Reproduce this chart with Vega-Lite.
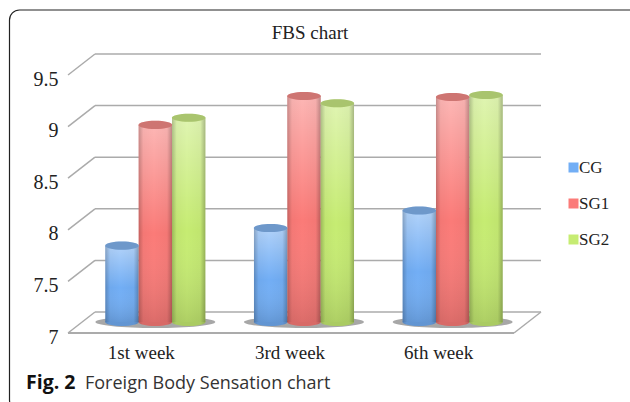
{
"$schema":"https://vega.github.io/schema/vega-lite/v6.json",
"autosize":{"type":"none"},
"padding":{"left":81,"top":64,"right":103,"bottom":80},
"width":446,"height":258,
"background":"white",
"datasets":{
"bars":[
{"week":"1st week","group":"CG","value":7.74},
{"week":"1st week","group":"SG1","value":8.91},
{"week":"1st week","group":"SG2","value":8.98},
{"week":"3rd week","group":"CG","value":7.91},
{"week":"3rd week","group":"SG1","value":9.19},
{"week":"3rd week","group":"SG2","value":9.12},
{"week":"6th week","group":"CG","value":8.08},
{"week":"6th week","group":"SG1","value":9.18},
{"week":"6th week","group":"SG2","value":9.2}],
"levels":[{"level":7},{"level":7.5},{"level":8},{"level":8.5},{"level":9},{"level":9.5}],
"weeks":[{"week":"1st week"},{"week":"3rd week"},{"week":"6th week"}],
"floor":[{"level":7}]
},
"data":{"name":"bars"},
"encoding":{
"x":{"field":"week","type":"nominal","sort":null,"title":null,
"scale":{"paddingInner":0.327,"paddingOuter":0.1635},
"axis":{"domain":false,"ticks":false,"grid":false,"labelAngle":0,"labelFont":"Liberation Serif","labelFontSize":19,"labelColor":"#222","labelPadding":21,"labelOffset":-14}},
"y":{"type":"quantitative","scale":{"domain":[7,9.5],"nice":false,"zero":false},"title":null,
"axis":{"values":[7,7.5,8,8.5,9,9.5],"format":"~g","domain":false,"ticks":false,"grid":false,"labelFont":"Liberation Serif","labelFontSize":20,"labelColor":"#222","labelPadding":23,"labelOffset":15}}
},
"layer":[
{"data":{"name":"levels"},"mark":{"type":"rule","stroke":"#ababab","strokeWidth":1.5,"yOffset":-10},
 "encoding":{"x":{"value":14},"x2":{"value":460},"y":{"field":"level","type":"quantitative"}}},
{"data":{"name":"levels"},"mark":{"type":"rule","stroke":"#ababab","strokeWidth":1.5,"yOffset":11,"y2Offset":-10},
 "encoding":{"x":{"value":-13},"x2":{"value":14},"y":{"field":"level","type":"quantitative"},"y2":{"field":"level"}}},
{"data":{"name":"floor"},"mark":{"type":"rule","stroke":"#ababab","strokeWidth":2,"yOffset":11},
 "encoding":{"x":{"value":-13},"x2":{"value":433},"y":{"field":"level","type":"quantitative"}}},
{"data":{"name":"floor"},"mark":{"type":"rule","stroke":"#ababab","strokeWidth":1.5,"yOffset":11,"y2Offset":-10},
 "encoding":{"x":{"value":433},"x2":{"value":460},"y":{"field":"level","type":"quantitative"},"y2":{"field":"level"}}},
{"data":{"name":"weeks"},"mark":{"type":"point","filled":true,"fill":"#8a8a8a","opacity":0.75,"size":14400,"shape":"M-1,0A1,0.1,0,1,1,1,0A1,0.1,0,1,1,-1,0Z","strokeWidth":0},
 "encoding":{"x":{"field":"week","type":"nominal","sort":null},"y":{"datum":7}}},
{"mark":{"type":"point","filled":true,"opacity":1,"size":1130,"shape":"M-1,0A1,0.24,0,1,1,1,0A1,0.24,0,1,1,-1,0Z","strokeWidth":0},
 "encoding":{"xOffset":{"field":"group","type":"nominal"},"y":{"datum":7},"color":{"field":"group","type":"nominal"}}},
{"mark":{"type":"point","filled":true,"opacity":1,"size":1130,"fill":{"gradient":"linear","x1":0,"x2":1,"y1":0,"y2":0,"stops":[{"offset":0,"color":"rgba(0,0,0,0.25)"},{"offset":0.12,"color":"rgba(0,0,0,0.14)"},{"offset":0.85,"color":"rgba(0,0,0,0.14)"},{"offset":1,"color":"rgba(0,0,0,0.25)"}]},"shape":"M-1,0A1,0.24,0,1,1,1,0A1,0.24,0,1,1,-1,0Z","strokeWidth":0},
 "encoding":{"xOffset":{"field":"group","type":"nominal"},"y":{"datum":7}}},
{"mark":{"type":"bar"},
 "encoding":{"xOffset":{"field":"group","type":"nominal"},"y":{"field":"value","type":"quantitative"},"y2":{"datum":7},
  "color":{"field":"group","type":"nominal","title":null,
   "scale":{"domain":["CG","SG1","SG2"],"range":["#72AEF5","#FB7B78","#C6EC72"]},
   "legend":{"orient":"none","legendX":484,"legendY":95,"symbolType":"square","symbolSize":100,"symbolStrokeWidth":0,"labelFont":"Liberation Serif","labelFontSize":17,"labelColor":"#222","rowPadding":18,"labelOffset":-3}}}},
{"mark":{"type":"bar","fill":{"gradient":"linear","x1":0,"x2":0,"y1":0,"y2":1,"stops":[{"offset":0,"color":"rgba(255,255,255,0.45)"},{"offset":0.55,"color":"rgba(255,255,255,0)"},{"offset":1,"color":"rgba(0,0,0,0.12)"}]}},
 "encoding":{"xOffset":{"field":"group","type":"nominal"},"y":{"field":"value","type":"quantitative"},"y2":{"datum":7}}},
{"mark":{"type":"bar","fill":{"gradient":"linear","x1":0,"x2":1,"y1":0,"y2":0,"stops":[{"offset":0,"color":"rgba(0,0,0,0.22)"},{"offset":0.14,"color":"rgba(0,0,0,0.03)"},{"offset":0.45,"color":"rgba(0,0,0,0)"},{"offset":0.85,"color":"rgba(0,0,0,0.03)"},{"offset":1,"color":"rgba(0,0,0,0.25)"}]}},
 "encoding":{"xOffset":{"field":"group","type":"nominal"},"y":{"field":"value","type":"quantitative"},"y2":{"datum":7}}},
{"mark":{"type":"point","filled":true,"opacity":1,"size":1130,"shape":"M-1,0A1,0.24,0,1,1,1,0A1,0.24,0,1,1,-1,0Z","strokeWidth":0},
 "encoding":{"xOffset":{"field":"group","type":"nominal"},"y":{"field":"value","type":"quantitative"},"color":{"field":"group","type":"nominal"}}},
{"mark":{"type":"point","filled":true,"fill":"#666","opacity":0.3,"size":1130,"shape":"M-1,0A1,0.24,0,1,1,1,0A1,0.24,0,1,1,-1,0Z","strokeWidth":0},
 "encoding":{"xOffset":{"field":"group","type":"nominal"},"y":{"field":"value","type":"quantitative"}}},
{"data":{"values":[{"caption":"FBS chart"}]},"mark":{"type":"text","align":"center","baseline":"alphabetic","font":"Liberation Serif","fontSize":19,"color":"#222"},
 "encoding":{"x":{"value":229},"y":{"value":-25},"text":{"field":"caption"}}},
{"data":{"values":[{"caption":"Fig. 2"}]},"mark":{"type":"text","align":"left","baseline":"alphabetic","font":"Open Sans","fontSize":19.5,"fontWeight":"bold","color":"#111"},
 "encoding":{"x":{"value":-55},"y":{"value":325},"text":{"field":"caption"}}},
{"data":{"values":[{"caption":"Foreign Body Sensation chart"}]},"mark":{"type":"text","align":"left","baseline":"alphabetic","font":"Open Sans","fontSize":18,"color":"#333"},
 "encoding":{"x":{"value":4},"y":{"value":325},"text":{"field":"caption"}}},
{"data":{"values":[{"frame":"border"}]},"mark":{"type":"rect","fill":null,"stroke":"#222","strokeWidth":1.2,"cornerRadius":10},
 "encoding":{"x":{"value":-71.5},"x2":{"value":570},"y":{"value":-54},"y2":{"value":346}}}
],
"config":{"view":{"stroke":null},"axis":{"labelFontWeight":"normal"}}
}
